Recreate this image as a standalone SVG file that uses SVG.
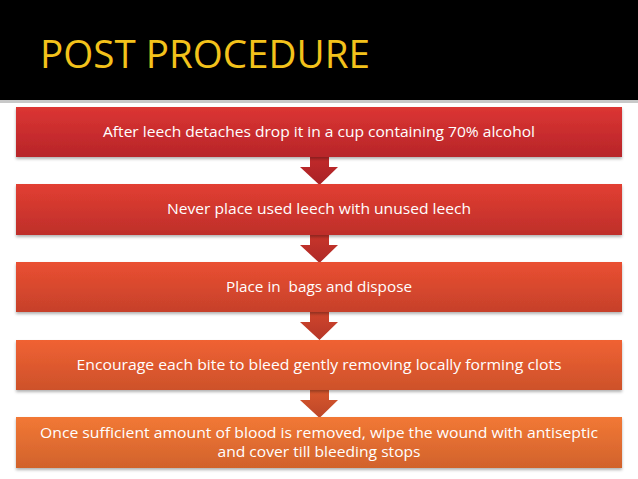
<svg xmlns="http://www.w3.org/2000/svg" width="638" height="479" viewBox="0 0 638 479">
<defs>
<linearGradient id="g1" x1="0" y1="0" x2="0" y2="1"><stop offset="0" stop-color="#DC3532"/><stop offset="1" stop-color="#B7252A"/></linearGradient>
<linearGradient id="g2" x1="0" y1="0" x2="0" y2="1"><stop offset="0" stop-color="#E23F31"/><stop offset="1" stop-color="#BE2E2B"/></linearGradient>
<linearGradient id="g3" x1="0" y1="0" x2="0" y2="1"><stop offset="0" stop-color="#EA5031"/><stop offset="1" stop-color="#C6402B"/></linearGradient>
<linearGradient id="g4" x1="0" y1="0" x2="0" y2="1"><stop offset="0" stop-color="#F06232"/><stop offset="1" stop-color="#CD512B"/></linearGradient>
<linearGradient id="g5" x1="0" y1="0" x2="0" y2="1"><stop offset="0" stop-color="#F27835"/><stop offset="1" stop-color="#D1622C"/></linearGradient>
<linearGradient id="a1" x1="0" y1="0" x2="0" y2="1"><stop offset="0" stop-color="#C22A2B"/><stop offset="1" stop-color="#A82226"/></linearGradient>
<linearGradient id="a2" x1="0" y1="0" x2="0" y2="1"><stop offset="0" stop-color="#C8352B"/><stop offset="1" stop-color="#AE2A27"/></linearGradient>
<linearGradient id="a3" x1="0" y1="0" x2="0" y2="1"><stop offset="0" stop-color="#D0452C"/><stop offset="1" stop-color="#B53728"/></linearGradient>
<linearGradient id="a4" x1="0" y1="0" x2="0" y2="1"><stop offset="0" stop-color="#D8572D"/><stop offset="1" stop-color="#BC4628"/></linearGradient>
<filter id="sh" x="-5%" y="-20%" width="110%" height="150%"><feDropShadow dx="0" dy="2" stdDeviation="1.5" flood-color="#000" flood-opacity="0.3"/></filter>
<style>
.t{font-family:"Open Sans","Liberation Sans",sans-serif;font-size:14px;fill:#fff;text-anchor:middle;white-space:pre}
.box{filter:url(#sh)}
</style>
</defs>
<rect width="638" height="479" fill="#fff"/>
<rect width="638" height="100" fill="#000"/>
<rect y="100" width="638" height="3" fill="#C8C8C8"/>
<text x="40" y="68" font-family="Open Sans, Liberation Sans, sans-serif" font-size="38" fill="#F3C21B" textLength="330" lengthAdjust="spacingAndGlyphs">POST PROCEDURE</text>
<g id="connectors">
<path d="M310 157 H329 V167 H338 L319.5 185 L300 167 H310 Z" fill="url(#a1)"/>
<path d="M310 235 H329 V245 H338 L319.5 263 L300 245 H310 Z" fill="url(#a2)"/>
<path d="M310 312 H329 V322 H338 L319.5 340 L300 322 H310 Z" fill="url(#a3)"/>
<path d="M310 390 H329 V400 H338 L319.5 418 L300 400 H310 Z" fill="url(#a4)"/>
</g>
<g id="n1"><rect class="box" x="16" y="107" width="606" height="50" fill="url(#g1)"/><text class="t" x="319" y="137" textLength="432" lengthAdjust="spacingAndGlyphs">After leech detaches drop it in a cup containing 70% alcohol</text></g>
<g id="n2"><rect class="box" x="16" y="184" width="606" height="51" fill="url(#g2)"/><text class="t" x="319" y="214" textLength="304" lengthAdjust="spacingAndGlyphs">Never place used leech with unused leech</text></g>
<g id="n3"><rect class="box" x="16" y="262" width="606" height="50" fill="url(#g3)"/><text class="t" x="319" y="292" textLength="186" lengthAdjust="spacingAndGlyphs" xml:space="preserve">Place in  bags and dispose</text></g>
<g id="n4"><rect class="box" x="16" y="340" width="606" height="50" fill="url(#g4)"/><text class="t" x="319" y="370" textLength="485" lengthAdjust="spacingAndGlyphs">Encourage each bite to bleed gently removing locally forming clots</text></g>
<g id="n5"><rect class="box" x="16" y="417" width="606" height="51" fill="url(#g5)"/><text class="t" x="319" y="438" textLength="558" lengthAdjust="spacingAndGlyphs">Once sufficient amount of blood is removed, wipe the wound with antiseptic</text><text class="t" x="319" y="457" textLength="203" lengthAdjust="spacingAndGlyphs">and cover till bleeding stops</text></g>
</svg>
